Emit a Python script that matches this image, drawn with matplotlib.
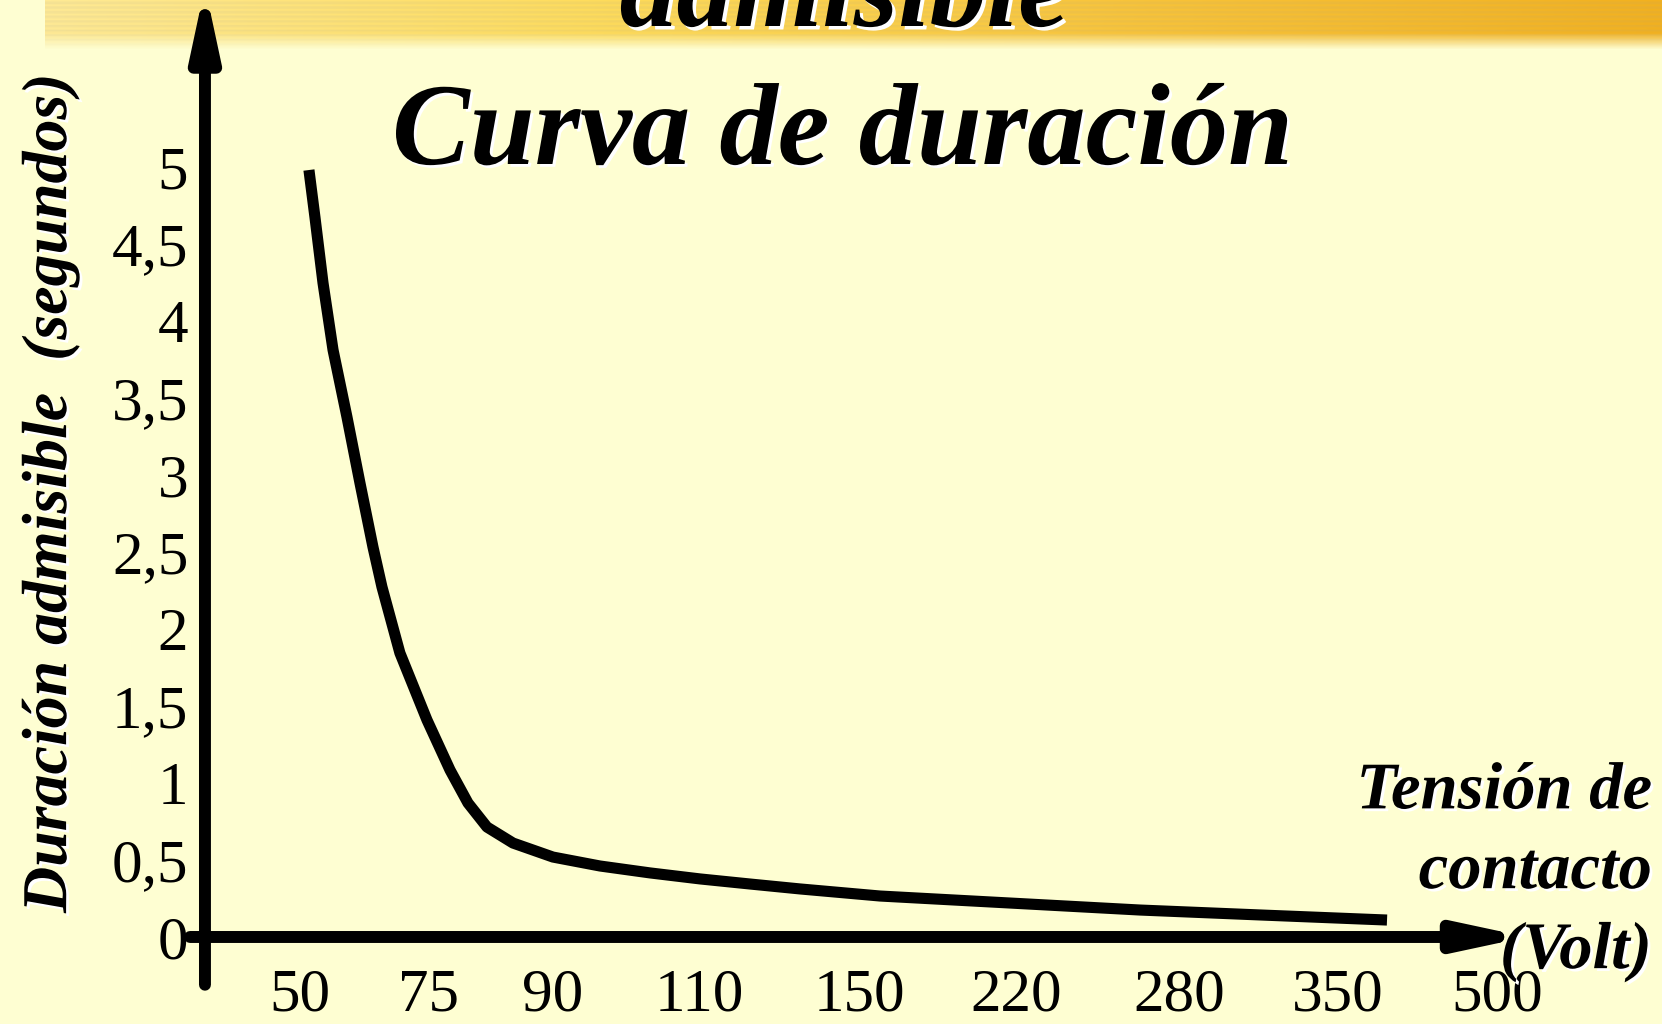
import numpy as np
import matplotlib
matplotlib.use('Agg')
import matplotlib.pyplot as plt
import matplotlib.patheffects as pe
from matplotlib.colors import LinearSegmentedColormap

# contact voltage categories (V) and allowed duration (s)
volt_labels = ['50', '75', '90', '110', '150', '220', '280', '350', '500']
dur_ticks = [0, 0.5, 1, 1.5, 2, 2.5, 3, 3.5, 4, 4.5, 5]
dur_labels = ['0', '0,5', '1', '1,5', '2', '2,5', '3', '3,5', '4', '4,5', '5']

# curve, x in "category slot" units (50 V -> 0, 500 V -> 8)
curve_pos = [0.06, 0.10, 0.154, 0.221, 0.314, 0.401, 0.488, 0.548, 0.668, 0.849,
             1.003, 1.123, 1.25, 1.424, 1.691, 2.005, 2.34, 2.674, 3.008, 3.342,
             3.877, 5.615, 6.417, 7.266]
curve_dur = [4.98, 4.675, 4.247, 3.812, 3.377, 2.948, 2.532, 2.273, 1.844, 1.409,
             1.084, 0.87, 0.714, 0.61, 0.519, 0.461, 0.416, 0.377, 0.344, 0.312,
             0.266, 0.175, 0.143, 0.11]

# slide places the voltage labels slightly unevenly
tick_slots = [0, 0.86, 1.69, 2.67, 3.74, 4.79, 5.88, 6.94, 8.0]

BG = '#FEFED2'
serif = 'Liberation Serif'

fig = plt.figure(figsize=(16.62, 10.24), dpi=100, facecolor=BG)

# yellow brush banner at the top
ax_b = fig.add_axes([0.027, 1 - 50 / 1024, 0.973, 50 / 1024])
cmap = LinearSegmentedColormap.from_list('brush', ['#FFEA94', '#FEDC5C', '#F8C43A', '#F2B11F'])
w, h = 400, 40
grad = np.zeros((h, w, 4))
cols = cmap(np.linspace(0, 1, w))
streak = 0.94 + 0.06 * np.cos(np.arange(h) * 1.7)
grad[:, :, :3] = np.clip(cols[None, :, :3] * streak[:, None, None] + (1 - streak[:, None, None]) * 0.6, 0, 1)
fade = np.ones(h)
fade[-14:] = np.linspace(1, 0, 14)
grad[:, :, 3] = fade[:, None]
ax_b.imshow(grad, aspect='auto', extent=(0, 1, 0, 1))
ax_b.axis('off')

shadow = [pe.SimplePatchShadow(offset=(2.5, -2.5), shadow_rgbFace='white', alpha=1), pe.Normal()]

fig.text(0.508, 1 - 26 / 1024, 'admisible', family=serif, weight='bold', style='italic',
         fontsize=82, ha='center', va='baseline', color='black', zorder=5,
         path_effects=shadow)

ax = fig.add_axes([0, 0, 1, 1])
ax.set_facecolor('none')
ax.set_xlim(-2.005, 9.104)
ax.set_ylim(-0.565, 6.084)

ax.plot(curve_pos, curve_dur, color='black', lw=8, solid_capstyle='butt',
        solid_joinstyle='round', zorder=3)

# axes drawn as arrows like on the slide
arrow = dict(arrowstyle='-|>,head_length=0.42,head_width=0.09', lw=8.6, color='black',
             mutation_scale=90, shrinkA=0, shrinkB=0)
ax.annotate('', xy=(-0.635, 6.17), xytext=(-0.635, -0.31), arrowprops=arrow,
            annotation_clip=False)
ax.annotate('', xy=(8.2, 0), xytext=(-0.735, 0), arrowprops=arrow, annotation_clip=False)

for s in ax.spines.values():
    s.set_visible(False)
ax.spines['left'].set_position(('data', -0.635))
ax.spines['bottom'].set_position(('data', 0))

ax.set_yticks(dur_ticks)
ax.set_yticklabels(dur_labels)
ax.set_xticks(tick_slots)
ax.set_xticklabels(volt_labels)
ax.tick_params(axis='y', length=0, pad=12, labelsize=44)
ax.tick_params(axis='x', length=0, pad=22, labelsize=44)
for lab in ax.get_xticklabels() + ax.get_yticklabels():
    lab.set_fontfamily(serif)

shadow2 = [pe.SimplePatchShadow(offset=(2, -2), shadow_rgbFace='white', alpha=1), pe.Normal()]

fig.text(392 / 1662, 1 - 164 / 1024, 'Curva de duración', family=serif, weight='bold',
         style='italic', fontsize=84, ha='left', va='baseline', path_effects=shadow2)

fig.text(51 / 1662, 1 - 493 / 1024, 'Duración admisible  (segundos)', family=serif,
         weight='bold', style='italic', fontsize=46, rotation=90, ha='center', va='center',
         path_effects=shadow2)

fig.text(1652 / 1662, 1 - 872 / 1024, 'Tensión de\ncontacto\n(Volt)', family=serif,
         weight='bold', style='italic', fontsize=48, ha='right', va='center',
         multialignment='right', linespacing=1.4, path_effects=shadow2)

fig.savefig('out.png', dpi=100, facecolor=BG)
